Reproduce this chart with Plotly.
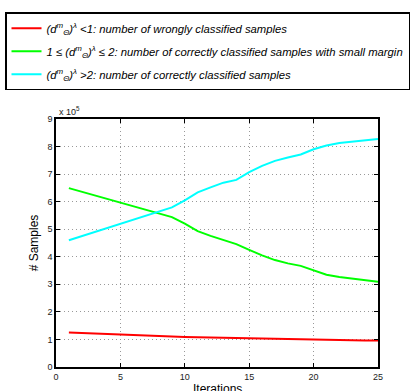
import plotly.graph_objects as go

iterations = list(range(1, 26))

# values in units of 1e5 samples
wrong = [1.25, 1.23, 1.21, 1.19, 1.17, 1.16, 1.14, 1.12, 1.11, 1.09, 1.08, 1.07, 1.05,
         1.04, 1.03, 1.02, 1.01, 1.00, 0.99, 0.98, 0.975, 0.97, 0.965, 0.96, 0.96]
small_margin = [6.49, 6.36, 6.23, 6.10, 5.97, 5.84, 5.71, 5.58, 5.44, 5.20, 4.93, 4.76, 4.62,
                4.46, 4.25, 4.05, 3.88, 3.76, 3.67, 3.50, 3.35, 3.27, 3.21, 3.15, 3.09]
correct = [4.60, 4.75, 4.90, 5.05, 5.19, 5.35, 5.50, 5.65, 5.79, 6.05, 6.34, 6.52, 6.69,
           6.79, 7.07, 7.30, 7.48, 7.60, 7.71, 7.90, 8.04, 8.13, 8.18, 8.24, 8.27]

names = [
    "(d<sup>m</sup><sub>Θ</sub>)<sup>λ</sup> &lt;1: number of wrongly classified samples",
    "1 ≤ (d<sup>m</sup><sub>Θ</sub>)<sup>λ</sup> ≤ 2: number of correctly classified samples with small margin",
    "(d<sup>m</sup><sub>Θ</sub>)<sup>λ</sup> &gt;2: number of correctly classified samples",
]
colors = ["#ff0000", "#00ff00", "#00ffff"]
series = [wrong, small_margin, correct]

fig = go.Figure()
for i, (nm, c, ys) in enumerate(zip(names, colors, series)):
    fig.add_trace(go.Scatter(x=iterations, y=ys, mode="lines", name=nm,
                             legendgroup=f"g{i}",
                             line=dict(color=c, width=2)))

font_family = "Liberation Sans, Arial, Helvetica, sans-serif"
axis_common = dict(
    showline=True, linecolor="black", linewidth=1.5, mirror="allticks",
    ticks="inside", ticklen=4, tickcolor="black", tickwidth=1,
    showgrid=True, gridcolor="#999999", griddash="1px,3px", gridwidth=1,
    zeroline=False, automargin=False,
    tickfont=dict(size=9, color="#222", family=font_family),
)

fig.update_layout(
    width=410, height=391,
    margin=dict(l=51, r=32, t=111, b=24),
    paper_bgcolor="white", plot_bgcolor="white",
    font=dict(family=font_family, color="black"),
    xaxis=dict(range=[0, 25], tickvals=[0, 5, 10, 15, 20, 25], **axis_common),
    yaxis=dict(range=[0, 9], tickvals=list(range(10)),
               title=dict(text="# Samples", font=dict(size=12), standoff=6),
               **axis_common),
    legend=dict(x=-0.137, y=1.43, xanchor="left", yanchor="top",
                bordercolor="black", borderwidth=1.5, bgcolor="white",
                font=dict(size=11.3, style="italic", family=font_family),
                tracegroupgap=4, itemwidth=30),
    showlegend=True,
    annotations=[
        dict(text="x 10<sup>5</sup>", x=0, y=1, xref="paper", yref="paper",
             xanchor="left", yanchor="bottom", showarrow=False,
             font=dict(size=9, color="#222"), xshift=1, yshift=0),
        dict(text="Iterations", x=0.5, y=0, xref="paper", yref="paper",
             xanchor="center", yanchor="top", showarrow=False,
             font=dict(size=12, color="black"), yshift=-13),
    ],
)

fig.write_html("out.html")
